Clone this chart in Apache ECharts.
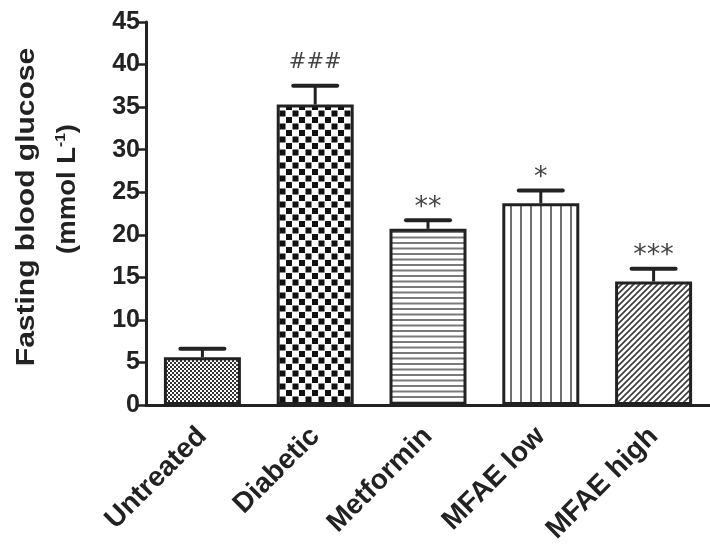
<!DOCTYPE html>
<html>
<head>
<meta charset="utf-8">
<script src="https://cdn.jsdelivr.net/npm/echarts@6/dist/echarts.min.js"></script>
<style>
  html, body { margin: 0; padding: 0; background: #fff; }
  #chart { width: 710px; height: 547px; }
</style>
</head>
<body>
<div id="chart"></div>
<script>
// Groups and fasting blood glucose (mean, SD) in mmol/L
const groups = ['Untreated', 'Diabetic', 'Metformin', 'MFAE low', 'MFAE high'];
const glucoseMean = [5.6, 35.3, 20.7, 23.7, 14.5];
const glucoseSD = [1.0, 2.2, 1.0, 1.5, 1.5];
const significance = ['', '###', '**', '*', '***'];
const yTicks = { min: 0, max: 45, step: 5 };

const INK = '#222';
const FONT = '"Liberation Sans", Arial, sans-serif';

// Fill patterns, one per group
function makePattern(w, h, draw) {
  const c = document.createElement('canvas');
  c.width = w; c.height = h;
  const ctx = c.getContext('2d');
  ctx.fillStyle = '#fff';
  ctx.fillRect(0, 0, w, h);
  draw(ctx, w, h);
  return { image: c, repeat: 'repeat' };
}

const patterns = [
  // fine checker
  makePattern(4, 4, (ctx) => {
    ctx.fillStyle = '#333';
    ctx.fillRect(0, 0, 2, 2);
    ctx.fillRect(2, 2, 2, 2);
  }),
  // coarse checker
  makePattern(13, 13, (ctx) => {
    ctx.fillStyle = '#111';
    ctx.fillRect(0, 0, 6, 6);
    ctx.fillRect(6.5, 6.5, 6, 6);
  }),
  // horizontal lines
  makePattern(4, 11, (ctx) => {
    ctx.fillStyle = '#7a7a7a';
    ctx.fillRect(0, 0, 4, 2);
    ctx.fillRect(0, 5.5, 4, 2);
  }),
  // vertical lines
  makePattern(10, 4, (ctx) => {
    ctx.fillStyle = '#707070';
    ctx.fillRect(0, 0, 2, 4);
  }),
  // diagonal hatching
  makePattern(6, 6, (ctx) => {
    ctx.strokeStyle = '#3a3a3a';
    ctx.lineWidth = 1.6;
    ctx.beginPath();
    ctx.moveTo(-1, 7); ctx.lineTo(7, -1);
    ctx.moveTo(-4, 4); ctx.lineTo(4, -4);
    ctx.moveTo(2, 10); ctx.lineTo(10, 2);
    ctx.stroke();
  })
];

const chart = echarts.init(document.getElementById('chart'), null, { renderer: 'canvas' });

const option = {
  animation: false,
  backgroundColor: '#fff',
  grid: { left: 146, top: 22, width: 574, height: 383, containLabel: false },
  xAxis: {
    type: 'category',
    data: groups,
    boundaryGap: true,
    axisLine: { lineStyle: { color: INK, width: 3 } },
    axisTick: { alignWithLabel: true, length: 8, lineStyle: { color: INK, width: 2.5 } },
    axisLabel: {
      interval: 0, rotate: 45, margin: 27,
      color: INK, fontFamily: FONT, fontWeight: 'bold', fontSize: 28
    },
    splitLine: { show: false }
  },
  yAxis: {
    type: 'value',
    min: yTicks.min, max: yTicks.max, interval: yTicks.step,
    axisLine: { show: true, lineStyle: { color: INK, width: 3 } },
    axisTick: { show: true, length: 8, lineStyle: { color: INK, width: 2.5 } },
    axisLabel: { margin: 6, color: INK, fontFamily: FONT, fontWeight: 'bold', fontSize: 25 },
    splitLine: { show: false }
  },
  graphic: [
    {
      type: 'text', x: 27, y: 207, rotation: Math.PI / 2, scaleX: 1.2,
      style: {
        text: 'Fasting blood glucose', fill: INK,
        font: 'bold 25px ' + FONT, align: 'center', verticalAlign: 'middle'
      }
    },
    {
      type: 'text', x: 68, y: 189, rotation: Math.PI / 2, scaleX: 1.1,
      style: {
        text: '(mmol L{sup|-1})', fill: INK,
        font: 'bold 25px ' + FONT, align: 'center', verticalAlign: 'middle',
        rich: {
          sup: { fontSize: 14, fontWeight: 'bold', fontFamily: FONT, fill: INK, padding: [0, 0, 14, 0] }
        }
      }
    }
  ],
  series: [
    {
      type: 'bar',
      barWidth: 77,
      data: glucoseMean.map((v, i) => ({
        value: v,
        itemStyle: { color: patterns[i], borderColor: INK, borderWidth: 3 }
      })),
      z: 2
    },
    {
      type: 'custom',
      z: 3,
      data: glucoseMean.map((v, i) => [i, v, glucoseSD[i]]),
      renderItem(params, api) {
        const i = api.value(0);
        const mean = api.value(1);
        const sd = api.value(2);
        const base = api.coord([i, mean]);
        const top = api.coord([i, mean + sd]);
        const half = 22;
        const children = [
          { type: 'line', shape: { x1: base[0], y1: base[1], x2: top[0], y2: top[1] },
            style: { stroke: INK, lineWidth: 3 } },
          { type: 'line', shape: { x1: top[0] - half, y1: top[1], x2: top[0] + half, y2: top[1] },
            style: { stroke: INK, lineWidth: 4, lineCap: 'round' } }
        ];
        const mark = significance[params.dataIndex];
        if (mark) {
          const isHash = mark.charAt(0) === '#';
          children.push({
            type: 'text',
            style: {
              text: mark, x: top[0], y: isHash ? top[1] - 13 : top[1] + 1,
              align: 'center', verticalAlign: 'bottom',
              fill: '#444',
              font: (isHash ? '21px' : '27px') + ' "DejaVu Sans", sans-serif'
            }
          });
        }
        return { type: 'group', children };
      }
    }
  ]
};

chart.setOption(option);
</script>
</body>
</html>
